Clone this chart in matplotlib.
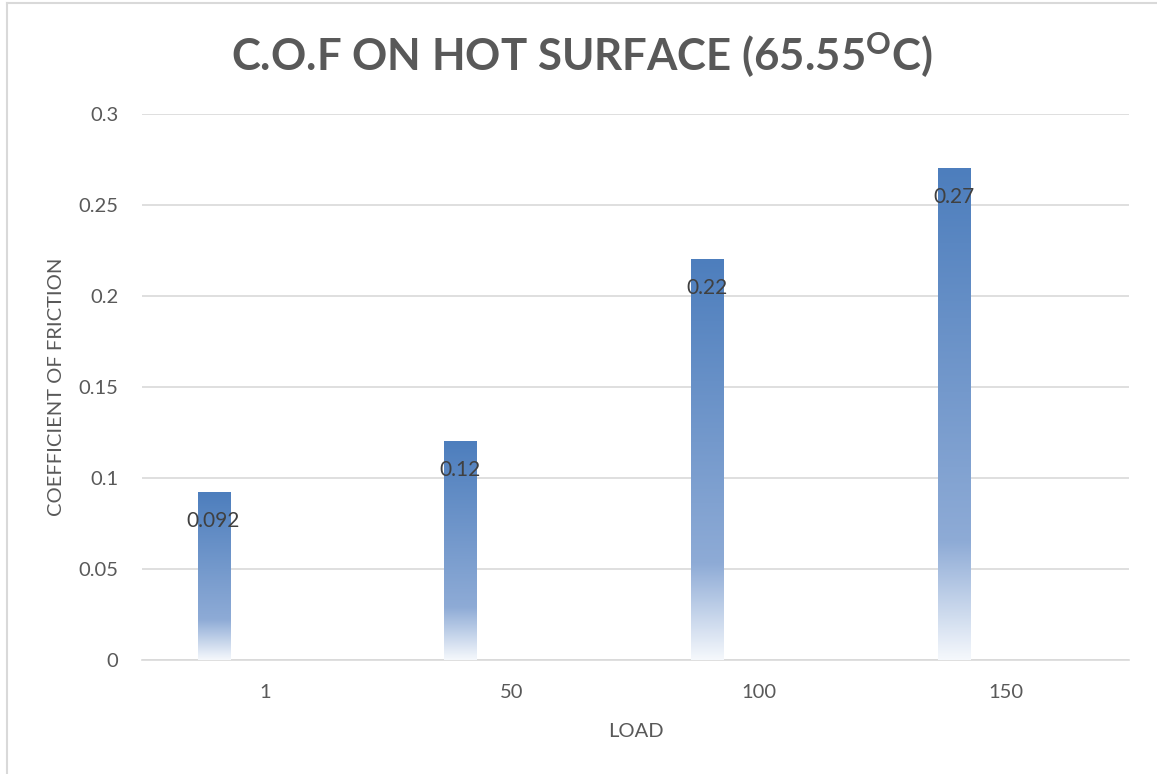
import numpy as np
import matplotlib.pyplot as plt
from matplotlib.colors import LinearSegmentedColormap
from matplotlib.lines import Line2D

# values
loads = ["1", "50", "100", "150"]
cof = [0.092, 0.12, 0.22, 0.27]
value_labels = ["0.092", "0.12", "0.22", "0.27"]

plt.rcParams["font.family"] = ["Lato", "DejaVu Sans"]
plt.rcParams["mathtext.default"] = "regular"

W, H = 1157, 774
fig = plt.figure(figsize=(W / 100, H / 100), dpi=100)
ax = fig.add_axes([142 / W, 1 - 660 / H, 987 / W, 546 / H])

# excel style gradient: dark blue on top, fading to white at the bottom
grad = LinearSegmentedColormap.from_list(
    "excel_blue",
    [(0.0, "#f5f8fc"), (0.24, "#8eabd6"), (1.0, "#4d7ebd")],
)
gradient = np.linspace(0, 1, 256).reshape(-1, 1)

x = np.arange(len(loads))
offset = -0.21
width = 0.13
for xi, val, lab in zip(x, cof, value_labels):
    left = xi + offset - width / 2
    ax.imshow(gradient, cmap=grad, origin="lower", aspect="auto",
              extent=(left, left + width, 0, val), zorder=3, interpolation="bilinear")
    ax.annotate(lab, (xi + offset, val), xytext=(0, -28), textcoords="offset pixels",
                ha="center", va="center", fontsize=15, color="#404040", zorder=4)

ax.set_xlim(-0.5, len(loads) - 0.5)
ax.set_ylim(0, 0.3)
ax.set_yticks([0, 0.05, 0.1, 0.15, 0.2, 0.25, 0.3])
ax.set_yticklabels(["0", "0.05", "0.1", "0.15", "0.2", "0.25", "0.3"])
ax.set_xticks(x)
ax.set_xticklabels(loads)
ax.tick_params(axis="both", length=0, labelsize=14.5, labelcolor="#595959")
ax.tick_params(axis="y", pad=17)
ax.tick_params(axis="x", pad=17)
ax.grid(axis="y", color="#d9d9d9", linewidth=1.2, zorder=0)
ax.set_axisbelow(True)
for side in ["top", "right", "left"]:
    ax.spines[side].set_visible(False)
ax.spines["bottom"].set_color("#d9d9d9")
ax.spines["bottom"].set_linewidth(1.2)

ax.set_xlabel("LOAD", fontsize=14.5, color="#595959", labelpad=16)
# y axis title placed directly, centred where the reference has it
fig.text(57 / W, 1 - 387 / H, "COEFFICIENT OF FRICTION", rotation=90,
         ha="center", va="center", fontsize=14.5, color="#595959")

fig.text(582 / W, 1 - 55 / H, r"C.O.F ON HOT SURFACE (65.55$^{O}$C)",
         ha="center", va="center", fontsize=31.5, fontweight="bold", color="#595959")

# chart border (only top and left visible in the crop)
fig.add_artist(Line2D([7 / W, 7 / W], [0, 1 - 3 / H], transform=fig.transFigure,
                      color="#d9d9d9", linewidth=1.5))
fig.add_artist(Line2D([7 / W, 1], [1 - 3 / H, 1 - 3 / H], transform=fig.transFigure,
                      color="#d9d9d9", linewidth=1.5))

fig.savefig("out.png", dpi=100, facecolor="white")
